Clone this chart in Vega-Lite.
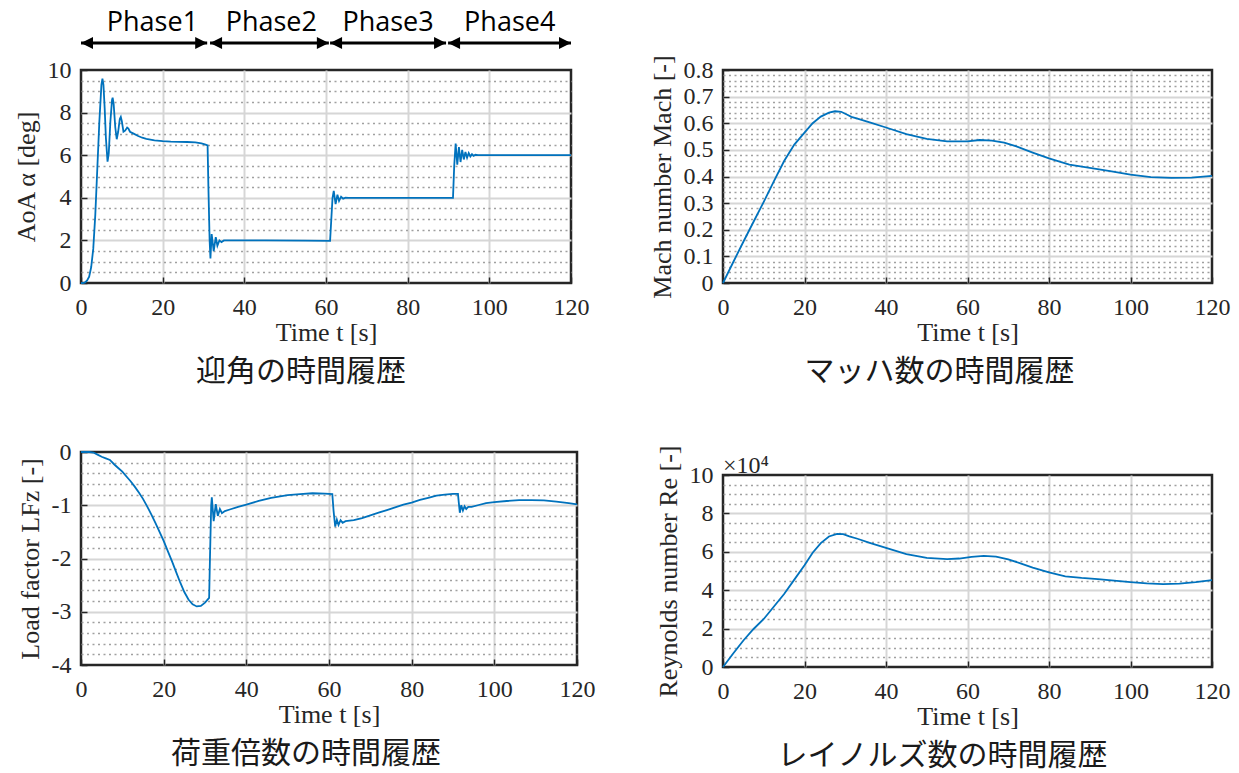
{
  "$schema": "https://vega.github.io/schema/vega-lite/v6.json",
  "background": "white",
  "padding": {"left": 11, "top": 7, "right": 0, "bottom": 0},
  "spacing": 50,
  "datasets": {
    "aoa": [
      {"t": 0, "v": 0}, {"t": 0.5, "v": 0}, {"t": 1, "v": 0.03}, {"t": 1.5, "v": 0.12}, {"t": 2, "v": 0.3}, {"t": 2.5, "v": 0.75},
      {"t": 3, "v": 1.6}, {"t": 3.5, "v": 3.2}, {"t": 4, "v": 5.4}, {"t": 4.5, "v": 7.6}, {"t": 5, "v": 9.3}, {"t": 5.25, "v": 9.6},
      {"t": 5.5, "v": 9.3}, {"t": 5.8, "v": 8.2}, {"t": 6.1, "v": 6.8}, {"t": 6.5, "v": 5.7}, {"t": 6.8, "v": 6.1}, {"t": 7.2, "v": 7.6},
      {"t": 7.6, "v": 8.6}, {"t": 7.75, "v": 8.7}, {"t": 8.0, "v": 8.4}, {"t": 8.4, "v": 7.3}, {"t": 8.75, "v": 6.75}, {"t": 9.1, "v": 7.1},
      {"t": 9.5, "v": 7.7}, {"t": 9.75, "v": 7.8}, {"t": 10.0, "v": 7.6}, {"t": 10.4, "v": 7.1}, {"t": 10.8, "v": 7.15}, {"t": 11.3, "v": 7.3},
      {"t": 11.6, "v": 7.25}, {"t": 12.0, "v": 7.1}, {"t": 12.5, "v": 7.05}, {"t": 13, "v": 7.0}, {"t": 14, "v": 6.9}, {"t": 15, "v": 6.82},
      {"t": 16, "v": 6.77}, {"t": 18, "v": 6.7}, {"t": 20, "v": 6.66}, {"t": 22, "v": 6.64}, {"t": 24, "v": 6.63}, {"t": 26, "v": 6.62},
      {"t": 28, "v": 6.6}, {"t": 29.5, "v": 6.56}, {"t": 30.5, "v": 6.5}, {"t": 31.0, "v": 6.46}, {"t": 31.2, "v": 4.5}, {"t": 31.5, "v": 2.0},
      {"t": 31.7, "v": 1.15}, {"t": 32.0, "v": 2.3}, {"t": 32.5, "v": 1.5}, {"t": 33.0, "v": 2.15}, {"t": 33.4, "v": 1.75}, {"t": 33.9, "v": 2.0},
      {"t": 34.4, "v": 1.92}, {"t": 35, "v": 2.0}, {"t": 45, "v": 2.0}, {"t": 55, "v": 1.99}, {"t": 61.0, "v": 1.98}, {"t": 61.3, "v": 3.0},
      {"t": 61.6, "v": 4.0}, {"t": 61.9, "v": 4.32}, {"t": 62.35, "v": 3.7}, {"t": 62.8, "v": 4.15}, {"t": 63.2, "v": 3.85}, {"t": 63.7, "v": 4.05},
      {"t": 64.2, "v": 3.96}, {"t": 64.8, "v": 4.01}, {"t": 65.5, "v": 4.0}, {"t": 75, "v": 4.0}, {"t": 91.1, "v": 4.0}, {"t": 91.4, "v": 5.5},
      {"t": 91.75, "v": 6.55}, {"t": 92.15, "v": 5.55}, {"t": 92.55, "v": 6.38}, {"t": 92.95, "v": 5.68}, {"t": 93.35, "v": 6.25}, {"t": 93.75, "v": 5.8},
      {"t": 94.15, "v": 6.15}, {"t": 94.55, "v": 5.88}, {"t": 94.95, "v": 6.1}, {"t": 95.35, "v": 5.94}, {"t": 95.75, "v": 6.05}, {"t": 96.15, "v": 5.97},
      {"t": 96.6, "v": 6.02}, {"t": 97.2, "v": 6.0}, {"t": 120, "v": 6.0}
    ],
    "phases": [
      {"phase": "Phase1", "start": 0, "end": 30.9, "mid": 17.5},
      {"phase": "Phase2", "start": 31.6, "end": 60.7, "mid": 46.6},
      {"phase": "Phase3", "start": 61.0, "end": 89.4, "mid": 75.2},
      {"phase": "Phase4", "start": 89.9, "end": 120, "mid": 105}
    ],
    "mach": [
      {"t": 0, "v": 0}, {"t": 2.5, "v": 0.078}, {"t": 5, "v": 0.155}, {"t": 7.5, "v": 0.23}, {"t": 10, "v": 0.305}, {"t": 12.5, "v": 0.383},
      {"t": 15, "v": 0.458}, {"t": 17.5, "v": 0.52}, {"t": 20, "v": 0.565}, {"t": 22, "v": 0.6}, {"t": 24, "v": 0.625}, {"t": 26, "v": 0.64},
      {"t": 27.5, "v": 0.645}, {"t": 29, "v": 0.643}, {"t": 30.5, "v": 0.632}, {"t": 31.5, "v": 0.624}, {"t": 33, "v": 0.617}, {"t": 36, "v": 0.603},
      {"t": 40, "v": 0.584}, {"t": 45, "v": 0.559}, {"t": 50, "v": 0.541}, {"t": 55, "v": 0.532}, {"t": 60, "v": 0.532}, {"t": 63, "v": 0.537},
      {"t": 66, "v": 0.535}, {"t": 69, "v": 0.527}, {"t": 72, "v": 0.513}, {"t": 76, "v": 0.49}, {"t": 80, "v": 0.468}, {"t": 85, "v": 0.445},
      {"t": 90, "v": 0.432}, {"t": 95, "v": 0.42}, {"t": 100, "v": 0.407}, {"t": 105, "v": 0.398}, {"t": 110, "v": 0.395}, {"t": 115, "v": 0.396},
      {"t": 120, "v": 0.402}
    ],
    "lf": [
      {"t": 0, "v": 0}, {"t": 2, "v": 0}, {"t": 3, "v": -0.01}, {"t": 4, "v": -0.05}, {"t": 5, "v": -0.09}, {"t": 6, "v": -0.12},
      {"t": 7, "v": -0.15}, {"t": 8, "v": -0.23}, {"t": 9, "v": -0.3}, {"t": 10, "v": -0.37}, {"t": 11, "v": -0.46}, {"t": 12, "v": -0.55},
      {"t": 13, "v": -0.65}, {"t": 14, "v": -0.76}, {"t": 15, "v": -0.88}, {"t": 16, "v": -1.02}, {"t": 17, "v": -1.17}, {"t": 18, "v": -1.33},
      {"t": 19, "v": -1.5}, {"t": 20, "v": -1.67}, {"t": 21, "v": -1.86}, {"t": 22, "v": -2.05}, {"t": 23, "v": -2.25}, {"t": 24, "v": -2.45},
      {"t": 25, "v": -2.63}, {"t": 26, "v": -2.77}, {"t": 27, "v": -2.86}, {"t": 28, "v": -2.9}, {"t": 29, "v": -2.89}, {"t": 30, "v": -2.83},
      {"t": 31, "v": -2.74}, {"t": 31.2, "v": -2.0}, {"t": 31.5, "v": -1.0}, {"t": 31.65, "v": -0.85}, {"t": 32.1, "v": -1.3}, {"t": 32.6, "v": -0.98},
      {"t": 33.1, "v": -1.2}, {"t": 33.6, "v": -1.07}, {"t": 34.1, "v": -1.15}, {"t": 34.8, "v": -1.11}, {"t": 36, "v": -1.08}, {"t": 38, "v": -1.03},
      {"t": 40, "v": -0.99}, {"t": 43, "v": -0.92}, {"t": 46, "v": -0.86}, {"t": 50, "v": -0.81}, {"t": 53, "v": -0.79}, {"t": 56, "v": -0.775},
      {"t": 59, "v": -0.78}, {"t": 60.8, "v": -0.79}, {"t": 61.1, "v": -1.1}, {"t": 61.5, "v": -1.4}, {"t": 61.9, "v": -1.27}, {"t": 62.3, "v": -1.37},
      {"t": 62.8, "v": -1.28}, {"t": 63.3, "v": -1.33}, {"t": 64, "v": -1.3}, {"t": 66, "v": -1.28}, {"t": 68, "v": -1.24}, {"t": 70, "v": -1.19},
      {"t": 72, "v": -1.14}, {"t": 74, "v": -1.09}, {"t": 76, "v": -1.04}, {"t": 78, "v": -0.99}, {"t": 80, "v": -0.95}, {"t": 82, "v": -0.9},
      {"t": 84, "v": -0.86}, {"t": 86, "v": -0.82}, {"t": 88, "v": -0.8}, {"t": 90, "v": -0.785}, {"t": 91.2, "v": -0.785}, {"t": 91.4, "v": -0.95},
      {"t": 91.65, "v": -1.14}, {"t": 92.0, "v": -1.0}, {"t": 92.4, "v": -1.1}, {"t": 92.8, "v": -1.02}, {"t": 93.2, "v": -1.07}, {"t": 93.7, "v": -1.03},
      {"t": 94.5, "v": -1.03}, {"t": 96, "v": -1.0}, {"t": 98, "v": -0.96}, {"t": 100, "v": -0.94}, {"t": 103, "v": -0.92}, {"t": 106, "v": -0.905},
      {"t": 109, "v": -0.905}, {"t": 112, "v": -0.91}, {"t": 115, "v": -0.93}, {"t": 118, "v": -0.96}, {"t": 120, "v": -0.985}
    ],
    "re": [
      {"t": 0, "v": 0}, {"t": 2.5, "v": 0.7}, {"t": 5, "v": 1.38}, {"t": 7.5, "v": 1.98}, {"t": 10, "v": 2.5}, {"t": 12.5, "v": 3.15},
      {"t": 15, "v": 3.8}, {"t": 17.5, "v": 4.55}, {"t": 20, "v": 5.3}, {"t": 22, "v": 5.95}, {"t": 24, "v": 6.45}, {"t": 26, "v": 6.8},
      {"t": 28, "v": 6.93}, {"t": 29.5, "v": 6.92}, {"t": 31, "v": 6.8}, {"t": 33, "v": 6.68}, {"t": 36, "v": 6.47}, {"t": 40, "v": 6.2},
      {"t": 45, "v": 5.88}, {"t": 50, "v": 5.68}, {"t": 55, "v": 5.62}, {"t": 58, "v": 5.65}, {"t": 61, "v": 5.74}, {"t": 64, "v": 5.79},
      {"t": 67, "v": 5.75}, {"t": 70, "v": 5.6}, {"t": 73, "v": 5.4}, {"t": 76, "v": 5.18}, {"t": 80, "v": 4.93}, {"t": 84, "v": 4.72},
      {"t": 88, "v": 4.64}, {"t": 92, "v": 4.58}, {"t": 96, "v": 4.5}, {"t": 100, "v": 4.42}, {"t": 104, "v": 4.36}, {"t": 108, "v": 4.32},
      {"t": 112, "v": 4.34}, {"t": 116, "v": 4.42}, {"t": 120, "v": 4.53}
    ],
    "reFactor": [{"label": "×10⁴"}]
  },
  "hconcat": [
    {
      "spacing": 49,
      "vconcat": [
        {
          "width": 490,
          "height": 213,
          "title": {"text": "迎角の時間履歴"},
          "resolve": {"axis": {"x": "independent", "y": "independent"}},
          "layer": [
            {
              "data": {"name": "aoa"},
              "mark": {"type": "line", "color": "#0072BD", "strokeWidth": 1.8},
              "encoding": {
                "x": {"field": "t", "type": "quantitative", "scale": {"domain": [0, 120], "nice": false},
                  "axis": {"title": "Time t [s]", "values": [0, 20, 40, 60, 80, 100, 120], "labelExpr": "'' + datum.value",
                    "gridOpacity": {"condition": {"test": "datum.value == 0 || datum.value == 120", "value": 0}, "value": 1}}},
                "y": {"field": "v", "type": "quantitative", "scale": {"domain": [0, 10], "nice": false},
                  "axis": {"title": "AoA α [deg]",
                    "values": [0, 0.5, 1, 1.5, 2, 2.5, 3, 3.5, 4, 4.5, 5, 5.5, 6, 6.5, 7, 7.5, 8, 8.5, 9, 9.5, 10],
                    "labelExpr": "datum.value % 2 == 0 ? '' + datum.value : ''",
                    "tickOpacity": {"condition": {"test": "datum.value % 2 == 0", "value": 1}, "value": 0},
                    "gridDash": {"condition": {"test": "datum.value % 2 == 0", "value": []}, "value": [2, 3.5]},
                    "gridColor": {"condition": {"test": "datum.value % 2 == 0", "value": "#d6d6d6"}, "value": "#a0a0a0"},
                    "gridWidth": {"condition": {"test": "datum.value % 2 == 0", "value": 2}, "value": 1.5},
                    "gridOpacity": {"condition": {"test": "datum.value == 0 || datum.value == 10", "value": 0}, "value": 1}}}
              }
            },
            {
              "data": {"name": "phases"},
              "mark": {"type": "rule", "color": "black", "strokeWidth": 3},
              "encoding": {
                "x": {"field": "start", "type": "quantitative", "axis": null},
                "x2": {"field": "end"},
                "y": {"datum": 11.27, "type": "quantitative", "axis": null}
              }
            },
            {
              "data": {"name": "phases"},
              "mark": {"type": "point", "shape": "M0,0L2,-1L2,1Z", "filled": true, "color": "black", "size": 144, "opacity": 1},
              "encoding": {
                "x": {"field": "start", "type": "quantitative", "axis": null},
                "y": {"datum": 11.27, "type": "quantitative", "axis": null}
              }
            },
            {
              "data": {"name": "phases"},
              "mark": {"type": "point", "shape": "M0,0L-2,-1L-2,1Z", "filled": true, "color": "black", "size": 144, "opacity": 1},
              "encoding": {
                "x": {"field": "end", "type": "quantitative", "axis": null},
                "y": {"datum": 11.27, "type": "quantitative", "axis": null}
              }
            },
            {
              "data": {"name": "phases"},
              "mark": {"type": "text", "font": "Open Sans", "fontSize": 27, "color": "black", "align": "center", "baseline": "middle"},
              "encoding": {
                "x": {"field": "mid", "type": "quantitative", "axis": null},
                "y": {"datum": 12.2, "type": "quantitative", "axis": null},
                "text": {"field": "phase"}
              }
            }
          ]
        },
        {
          "width": 496,
          "height": 213,
          "title": {"text": "荷重倍数の時間履歴"},
          "data": {"name": "lf"},
          "mark": {"type": "line", "color": "#0072BD", "strokeWidth": 1.8},
          "encoding": {
            "x": {"field": "t", "type": "quantitative", "scale": {"domain": [0, 120], "nice": false},
              "axis": {"title": "Time t [s]", "values": [0, 20, 40, 60, 80, 100, 120], "labelExpr": "'' + datum.value",
                "gridOpacity": {"condition": {"test": "datum.value == 0 || datum.value == 120", "value": 0}, "value": 1}}},
            "y": {"field": "v", "type": "quantitative", "scale": {"domain": [-4, 0], "nice": false},
              "axis": {"title": "Load factor LFz [-]",
                "values": [-4, -3.8, -3.6, -3.4, -3.2, -3, -2.8, -2.6, -2.4, -2.2, -2, -1.8, -1.6, -1.4, -1.2, -1, -0.8, -0.6, -0.4, -0.2, 0],
                "labelExpr": "abs(datum.value - round(datum.value)) < 0.001 ? '' + datum.value : ''",
                "tickOpacity": {"condition": {"test": "abs(datum.value - round(datum.value)) < 0.001", "value": 1}, "value": 0},
                "gridDash": {"condition": {"test": "abs(datum.value - round(datum.value)) < 0.001", "value": []}, "value": [2, 3.5]},
                "gridColor": {"condition": {"test": "abs(datum.value - round(datum.value)) < 0.001", "value": "#d6d6d6"}, "value": "#a0a0a0"},
                "gridWidth": {"condition": {"test": "abs(datum.value - round(datum.value)) < 0.001", "value": 2}, "value": 1.5},
                "gridOpacity": {"condition": {"test": "datum.value == 0 || datum.value == -4", "value": 0}, "value": 1}}}
          }
        }
      ]
    },
    {
      "spacing": 54,
      "vconcat": [
        {
          "width": 489,
          "height": 213,
          "title": {"text": "マッハ数の時間履歴"},
          "data": {"name": "mach"},
          "mark": {"type": "line", "color": "#0072BD", "strokeWidth": 1.8},
          "encoding": {
            "x": {"field": "t", "type": "quantitative", "scale": {"domain": [0, 120], "nice": false},
              "axis": {"title": "Time t [s]", "values": [0, 20, 40, 60, 80, 100, 120], "labelExpr": "'' + datum.value",
                "gridOpacity": {"condition": {"test": "datum.value == 0 || datum.value == 120", "value": 0}, "value": 1}}},
            "y": {"field": "v", "type": "quantitative", "scale": {"domain": [0, 0.8], "nice": false},
              "axis": {"title": "Mach number Mach [-]",
                "values": [0, 0.02, 0.04, 0.06, 0.08, 0.1, 0.12, 0.14, 0.16, 0.18, 0.2, 0.22, 0.24, 0.26, 0.28, 0.3, 0.32, 0.34, 0.36, 0.38, 0.4, 0.42, 0.44, 0.46, 0.48, 0.5, 0.52, 0.54, 0.56, 0.58, 0.6, 0.62, 0.64, 0.66, 0.68, 0.7, 0.72, 0.74, 0.76, 0.78, 0.8],
                "labelExpr": "abs(datum.value * 10 - round(datum.value * 10)) < 0.001 ? '' + datum.value : ''",
                "tickOpacity": {"condition": {"test": "abs(datum.value * 10 - round(datum.value * 10)) < 0.001", "value": 1}, "value": 0},
                "gridDash": {"condition": {"test": "abs(datum.value * 10 - round(datum.value * 10)) < 0.001", "value": []}, "value": [2, 3.5]},
                "gridColor": {"condition": {"test": "abs(datum.value * 10 - round(datum.value * 10)) < 0.001", "value": "#d6d6d6"}, "value": "#a0a0a0"},
                "gridWidth": {"condition": {"test": "abs(datum.value * 10 - round(datum.value * 10)) < 0.001", "value": 2}, "value": 1.5},
                "gridOpacity": {"condition": {"test": "datum.value == 0 || datum.value == 0.8", "value": 0}, "value": 1}}}
          }
        },
        {
          "width": 489,
          "height": 192,
          "title": {"text": "レイノルズ数の時間履歴"},
          "resolve": {"axis": {"x": "independent", "y": "independent"}},
          "layer": [
            {
              "data": {"name": "re"},
              "mark": {"type": "line", "color": "#0072BD", "strokeWidth": 1.8},
              "encoding": {
                "x": {"field": "t", "type": "quantitative", "scale": {"domain": [0, 120], "nice": false},
                  "axis": {"title": "Time t [s]", "values": [0, 20, 40, 60, 80, 100, 120], "labelExpr": "'' + datum.value",
                    "gridOpacity": {"condition": {"test": "datum.value == 0 || datum.value == 120", "value": 0}, "value": 1}}},
                "y": {"field": "v", "type": "quantitative", "scale": {"domain": [0, 10], "nice": false},
                  "axis": {"title": "Reynolds number Re [-]",
                    "values": [0, 0.5, 1, 1.5, 2, 2.5, 3, 3.5, 4, 4.5, 5, 5.5, 6, 6.5, 7, 7.5, 8, 8.5, 9, 9.5, 10],
                    "labelExpr": "datum.value % 2 == 0 ? '' + datum.value : ''",
                    "tickOpacity": {"condition": {"test": "datum.value % 2 == 0", "value": 1}, "value": 0},
                    "gridDash": {"condition": {"test": "datum.value % 2 == 0", "value": []}, "value": [2, 3.5]},
                    "gridColor": {"condition": {"test": "datum.value % 2 == 0", "value": "#d6d6d6"}, "value": "#a0a0a0"},
                    "gridWidth": {"condition": {"test": "datum.value % 2 == 0", "value": 2}, "value": 1.5},
                    "gridOpacity": {"condition": {"test": "datum.value == 0 || datum.value == 10", "value": 0}, "value": 1}}}
              }
            },
            {
              "data": {"name": "reFactor"},
              "mark": {"type": "text", "font": "Liberation Serif", "fontSize": 24, "color": "#262626", "align": "left", "baseline": "alphabetic"},
              "encoding": {
                "x": {"datum": 0, "type": "quantitative", "axis": null},
                "y": {"datum": 10.1, "type": "quantitative", "axis": null},
                "text": {"field": "label"}
              }
            }
          ]
        }
      ]
    }
  ],
  "config": {
    "view": {"stroke": "#262626", "strokeWidth": 2.5, "fill": "white"},
    "axis": {
      "domain": false,
      "labelFont": "Liberation Serif", "labelFontSize": 24, "labelColor": "#262626",
      "titleFont": "Liberation Serif", "titleFontSize": 26, "titleFontWeight": "normal", "titleColor": "#262626",
      "tickColor": "#262626", "tickWidth": 1.5, "tickSize": -6,
      "labelFlush": false, "labelOverlap": false, "labelBound": false,
      "gridColor": "#d6d6d6", "gridWidth": 2
    },
    "axisX": {"labelPadding": 18, "titlePadding": 0},
    "axisY": {"labelPadding": 16, "titlePadding": 8},
    "title": {"font": "Noto Sans CJK JP", "fontSize": 30, "fontWeight": "normal", "color": "#1a1a1a", "orient": "bottom", "frame": "bounds", "anchor": "middle", "offset": 12}
  }
}
